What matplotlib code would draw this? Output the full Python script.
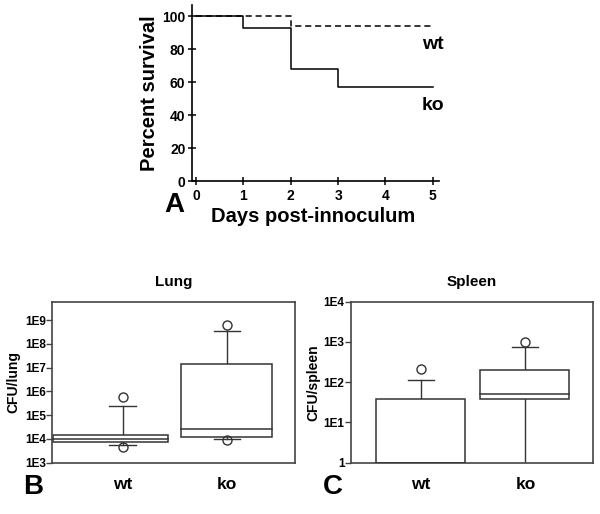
import matplotlib
matplotlib.use('Agg')
import matplotlib.pyplot as plt
from matplotlib.patches import Rectangle

plt.rcParams['font.family'] = ['Liberation Sans', 'DejaVu Sans']
plt.rcParams['font.weight'] = 'bold'
plt.rcParams['axes.labelweight'] = 'bold'
plt.rcParams['axes.titleweight'] = 'bold'

# panel A: survival curves
days = [0, 1, 2, 3, 5]
wt_surv = [100, 100, 94, 94, 94]
ko_surv = [100, 93, 68, 57, 57]

# panels B and C: box plot summaries
groups = ['wt', 'ko']
lung_q1 = [7.7e3, 1.25e4]
lung_med = [1.0e4, 2.6e4]
lung_q3 = [1.43e4, 1.38e7]
lung_wlo = [5.6e3, 9.7e3]
lung_whi = [2.5e5, 3.6e8]
lung_fliers = [[4.7e3, 5.8e5], [9.1e3, 5.9e8]]
lung_ticks = [1e3, 1e4, 1e5, 1e6, 1e7, 1e8, 1e9]
lung_labels = ['1E3', '1E4', '1E5', '1E6', '1E7', '1E8', '1E9']

spleen_q1 = [1, 38]
spleen_med = [1, 52]
spleen_q3 = [37.5, 200]
spleen_wlo = [1, 1]
spleen_whi = [113, 763]
spleen_fliers = [[209], [1000]]
spleen_ticks = [1, 10, 100, 1000, 10000]
spleen_labels = ['1', '1E1', '1E2', '1E3', '1E4']

W, H = 600, 514
fig = plt.figure(figsize=(6, 5.14), dpi=100)


def px_axes(x0, x1, y0, y1):
    return fig.add_axes([x0 / W, 1 - y1 / H, (x1 - x0) / W, (y1 - y0) / H])


# ---- A ----
axA = px_axes(191.7, 439, 5, 181)
axA.step(days, ko_surv, where='post', color='black', lw=1.1)
axA.step(days, wt_surv, where='post', color='black', lw=1.1, ls=(0, (4, 2.5)))
axA.set_xlim(-0.09, 5.13)
axA.set_ylim(0, 106.7)
axA.set_xticks(range(6))
axA.set_yticks(range(0, 101, 20))
for s in ['top', 'right']:
    axA.spines[s].set_visible(False)
for s in ['left', 'bottom']:
    axA.spines[s].set_linewidth(1.2)
axA.tick_params(direction='inout', length=6, width=1.1, labelsize=10)
axA.tick_params(axis='y', pad=1.5)
axA.tick_params(axis='x', pad=2.5)
axA.text(5, 83, 'wt', ha='center', va='center', fontsize=14)
axA.text(5, 46, 'ko', ha='center', va='center', fontsize=14)
axA.set_xlabel('Days post-innoculum', fontsize=14.5, va='center')
axA.xaxis.set_label_coords(0.4925, -0.2045)
axA.set_ylabel('Percent survival', fontsize=14.5, va='center')
axA.yaxis.set_label_coords(-0.169, 0.5)


def boxpanel(ax, q1, med, q3, wlo, whi, fliers, extents, ylim, ticks, labels,
             title, ylabel, ylab_x):
    edge = '#333333'
    for i in range(len(groups)):
        x = i + 1
        lo, hi = extents[i]
        ax.add_patch(Rectangle((x + lo, q1[i]), hi - lo, q3[i] - q1[i],
                               facecolor='white', edgecolor=edge, lw=1.1, zorder=2))
        ax.plot([x + lo, x + hi], [med[i], med[i]], color=edge, lw=1.1, zorder=3)
        ax.plot([x, x], [q3[i], whi[i]], color=edge, lw=1, zorder=1)
        ax.plot([x, x], [wlo[i], q1[i]], color=edge, lw=1, zorder=1)
        ax.plot([x - 0.125, x + 0.125], [whi[i], whi[i]], color=edge, lw=1)
        if wlo[i] > ylim[0]:
            ax.plot([x - 0.125, x + 0.125], [wlo[i], wlo[i]], color=edge, lw=1)
        ax.plot([x] * len(fliers[i]), fliers[i], 'o', mfc='none', mec=edge,
                ms=6.5, mew=1, zorder=4)
    ax.set_yscale('log')
    ax.set_ylim(*ylim)
    ax.set_xlim(0.328, 2.65)
    ax.set_yticks(ticks, labels)
    ax.minorticks_off()
    ax.set_xticks([1, 2], groups)
    ax.tick_params(axis='x', length=0, pad=10, labelsize=12.5)
    ax.tick_params(axis='y', direction='out', length=4, width=1, pad=0.5,
                   labelsize=8.5, color='#444444')
    for s in ax.spines.values():
        s.set_color('#444444')
        s.set_linewidth(1.2)
    ax.set_title(title, fontsize=11, pad=11.5)
    ax.set_ylabel(ylabel, fontsize=10, va='center')
    ax.yaxis.set_label_coords(ylab_x, 0.5)


axB = px_axes(52.3, 295, 301.7, 462.7)
boxpanel(axB, lung_q1, lung_med, lung_q3, lung_wlo, lung_whi, lung_fliers,
         [(-0.663, 0.433), (-0.44, 0.43)], (1e3, 10 ** 9.77),
         lung_ticks, lung_labels, 'Lung', 'CFU/lung', -0.159)

axC = px_axes(350.7, 593.3, 301.7, 462.7)
boxpanel(axC, spleen_q1, spleen_med, spleen_q3, spleen_wlo, spleen_whi,
         spleen_fliers, [(-0.43, 0.42), (-0.437, 0.42)], (1, 1e4),
         spleen_ticks, spleen_labels, 'Spleen', 'CFU/spleen', -0.155)

fig.text(174 / W, 1 - 205 / H, 'A', fontsize=20, ha='center', va='center')
fig.text(33.5 / W, 1 - 487 / H, 'B', fontsize=20, ha='center', va='center')
fig.text(333 / W, 1 - 487 / H, 'C', fontsize=20, ha='center', va='center')

fig.savefig('out.png', dpi=100)
